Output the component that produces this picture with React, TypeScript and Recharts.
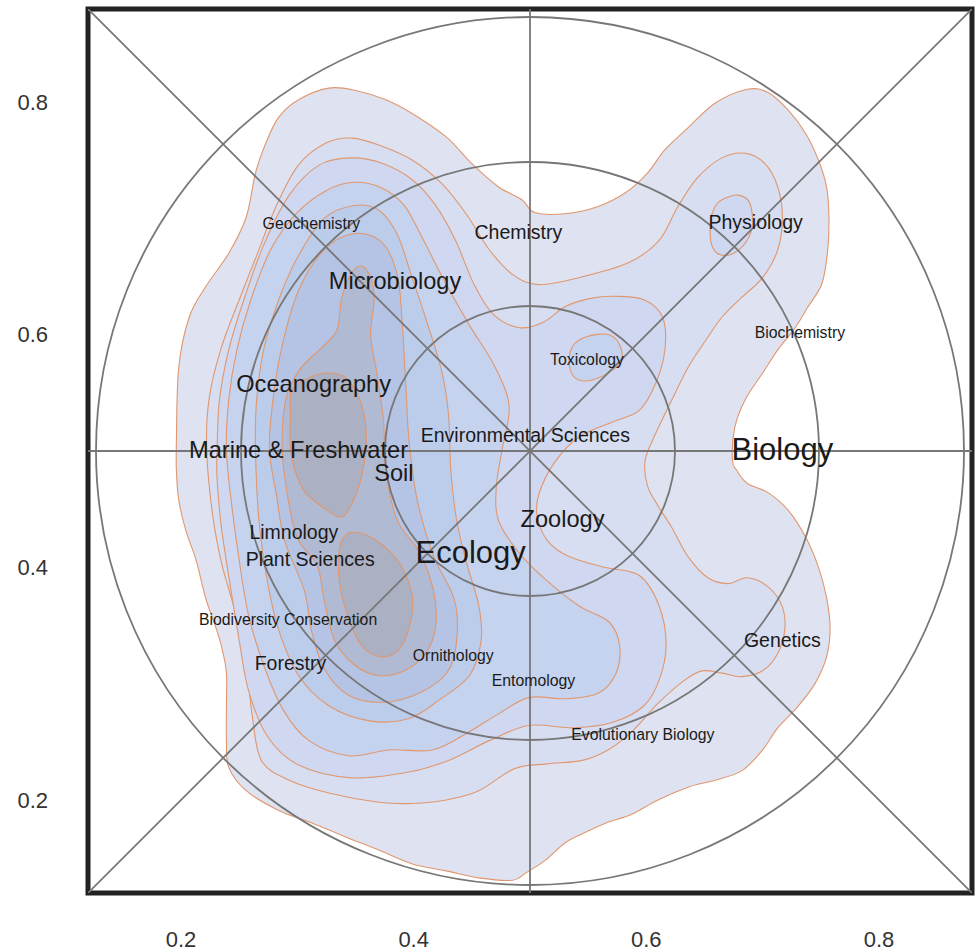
import React from 'react';
import { ScatterChart, Scatter, XAxis, YAxis, ReferenceArea } from 'recharts';

const FONT = '"Liberation Sans", Arial, Helvetica, sans-serif';

// ---------- axes ----------
const AXIS_DOMAIN: [number, number] = [0.12, 0.88];
const AXIS_TICKS = [0.2, 0.4, 0.6, 0.8];

// ---------- density contour levels (data coordinates, outermost first) ----------
const level1: [number, number][] = [
  [0.198, 0.572], [0.207, 0.615], [0.221, 0.641], [0.241, 0.670], [0.256, 0.701], [0.264, 0.739],
  [0.273, 0.765], [0.284, 0.787], [0.301, 0.802], [0.327, 0.812], [0.350, 0.810], [0.376, 0.802],
  [0.399, 0.790], [0.428, 0.770], [0.450, 0.747], [0.473, 0.727], [0.493, 0.716], [0.504, 0.705],
  [0.530, 0.704], [0.558, 0.710], [0.582, 0.722], [0.601, 0.739], [0.616, 0.759], [0.636, 0.778],
  [0.659, 0.799], [0.687, 0.811], [0.705, 0.808], [0.722, 0.793], [0.737, 0.773], [0.748, 0.750],
  [0.755, 0.727], [0.757, 0.701], [0.756, 0.673], [0.751, 0.644], [0.739, 0.624], [0.728, 0.606],
  [0.713, 0.587], [0.700, 0.567], [0.685, 0.544], [0.676, 0.520], [0.674, 0.492], [0.678, 0.483],
  [0.687, 0.472], [0.705, 0.464], [0.722, 0.449], [0.737, 0.426], [0.748, 0.400], [0.755, 0.374],
  [0.758, 0.348], [0.755, 0.323], [0.745, 0.300], [0.730, 0.280], [0.713, 0.262], [0.700, 0.243],
  [0.682, 0.225], [0.659, 0.217], [0.636, 0.211], [0.610, 0.200], [0.588, 0.188], [0.565, 0.180],
  [0.545, 0.171], [0.530, 0.163], [0.513, 0.148], [0.496, 0.137], [0.485, 0.131], [0.456, 0.133],
  [0.428, 0.139], [0.399, 0.145], [0.370, 0.157], [0.342, 0.168], [0.313, 0.180], [0.284, 0.191],
  [0.256, 0.208], [0.241, 0.228], [0.239, 0.251], [0.239, 0.280], [0.239, 0.309], [0.235, 0.331],
  [0.230, 0.348], [0.221, 0.374], [0.213, 0.406], [0.204, 0.432], [0.198, 0.458], [0.196, 0.483],
  [0.196, 0.509],
];

const level2: [number, number][] = [
  [0.222, 0.501], [0.224, 0.544], [0.234, 0.587], [0.250, 0.630], [0.265, 0.668], [0.282, 0.711],
  [0.301, 0.746], [0.325, 0.765], [0.347, 0.769], [0.370, 0.763], [0.399, 0.750], [0.424, 0.730],
  [0.445, 0.704], [0.465, 0.673], [0.486, 0.651], [0.508, 0.643], [0.542, 0.649], [0.585, 0.662],
  [0.611, 0.681], [0.627, 0.710], [0.644, 0.735], [0.665, 0.752], [0.685, 0.756], [0.702, 0.747],
  [0.713, 0.727], [0.717, 0.701], [0.713, 0.673], [0.700, 0.649], [0.682, 0.632], [0.665, 0.615],
  [0.651, 0.595], [0.636, 0.572], [0.622, 0.544], [0.608, 0.515], [0.599, 0.492], [0.601, 0.470],
  [0.610, 0.453], [0.622, 0.434], [0.636, 0.409], [0.653, 0.391], [0.670, 0.386], [0.687, 0.391],
  [0.705, 0.383], [0.717, 0.366], [0.719, 0.346], [0.713, 0.326], [0.700, 0.311], [0.682, 0.306],
  [0.665, 0.309], [0.648, 0.311], [0.633, 0.303], [0.610, 0.283], [0.588, 0.259], [0.567, 0.243],
  [0.545, 0.234], [0.515, 0.231], [0.487, 0.227], [0.456, 0.208], [0.428, 0.200], [0.399, 0.197],
  [0.370, 0.198], [0.327, 0.206], [0.293, 0.217], [0.269, 0.234], [0.261, 0.274], [0.256, 0.317],
  [0.247, 0.360], [0.235, 0.403], [0.227, 0.446],
];

const level3: [number, number][] = [
  [0.231, 0.501], [0.233, 0.544], [0.241, 0.587], [0.254, 0.630], [0.271, 0.677], [0.293, 0.720],
  [0.319, 0.746], [0.347, 0.752], [0.374, 0.747], [0.399, 0.733], [0.419, 0.711], [0.436, 0.681],
  [0.452, 0.643], [0.469, 0.617], [0.491, 0.606], [0.512, 0.611], [0.530, 0.624], [0.551, 0.631],
  [0.573, 0.633], [0.598, 0.630], [0.614, 0.615], [0.616, 0.587], [0.608, 0.558], [0.594, 0.535],
  [0.571, 0.525], [0.542, 0.512], [0.521, 0.490], [0.508, 0.464], [0.506, 0.445], [0.515, 0.423],
  [0.534, 0.409], [0.564, 0.400], [0.594, 0.393], [0.611, 0.367], [0.617, 0.333], [0.611, 0.303],
  [0.598, 0.281], [0.572, 0.267], [0.538, 0.262], [0.499, 0.264], [0.465, 0.251], [0.430, 0.234],
  [0.396, 0.224], [0.347, 0.219], [0.301, 0.230], [0.274, 0.255], [0.258, 0.294], [0.250, 0.337],
  [0.243, 0.380], [0.235, 0.432], [0.231, 0.475],
];

const level3Physiology: [number, number][] = [
  [0.665, 0.716], [0.679, 0.720], [0.689, 0.713], [0.691, 0.692], [0.682, 0.675], [0.668, 0.668],
  [0.657, 0.675], [0.655, 0.696], [0.659, 0.710],
];

const level4: [number, number][] = [
  [0.239, 0.501], [0.241, 0.544], [0.248, 0.587], [0.260, 0.630], [0.277, 0.673], [0.299, 0.704],
  [0.325, 0.724], [0.349, 0.731], [0.373, 0.726], [0.392, 0.711], [0.407, 0.684], [0.426, 0.647],
  [0.448, 0.608], [0.469, 0.574], [0.482, 0.539], [0.476, 0.501], [0.471, 0.469], [0.473, 0.440],
  [0.491, 0.412], [0.514, 0.389], [0.542, 0.367], [0.568, 0.353], [0.577, 0.333], [0.574, 0.309],
  [0.559, 0.292], [0.531, 0.287], [0.499, 0.288], [0.473, 0.274], [0.445, 0.257], [0.416, 0.243],
  [0.379, 0.243], [0.344, 0.238], [0.310, 0.251], [0.288, 0.277], [0.271, 0.316], [0.258, 0.359],
  [0.250, 0.406], [0.243, 0.458],
];

const level4Toxicology: [number, number][] = [
  [0.548, 0.598], [0.568, 0.600], [0.578, 0.589], [0.577, 0.575], [0.559, 0.563], [0.542, 0.561],
  [0.534, 0.572], [0.536, 0.589],
];

const level5: [number, number][] = [
  [0.264, 0.501], [0.265, 0.544], [0.271, 0.587], [0.284, 0.630], [0.301, 0.668], [0.323, 0.700],
  [0.349, 0.711], [0.370, 0.707], [0.386, 0.686], [0.398, 0.651], [0.411, 0.612], [0.424, 0.569],
  [0.430, 0.531], [0.432, 0.483], [0.437, 0.440], [0.446, 0.402], [0.456, 0.367], [0.458, 0.337],
  [0.448, 0.307], [0.422, 0.286], [0.396, 0.270], [0.362, 0.268], [0.327, 0.281], [0.301, 0.307],
  [0.284, 0.346], [0.274, 0.389], [0.267, 0.440],
];

const level6: [number, number][] = [
  [0.276, 0.501], [0.279, 0.544], [0.287, 0.591], [0.301, 0.638], [0.323, 0.673], [0.349, 0.687],
  [0.373, 0.679], [0.386, 0.651], [0.390, 0.612], [0.393, 0.561], [0.396, 0.509], [0.403, 0.458],
  [0.417, 0.410], [0.435, 0.372], [0.437, 0.337], [0.429, 0.310], [0.405, 0.292], [0.374, 0.284],
  [0.344, 0.290], [0.323, 0.313], [0.312, 0.346], [0.306, 0.380], [0.289, 0.423], [0.282, 0.462],
];

const level7: [number, number][] = [
  [0.287, 0.501], [0.290, 0.544], [0.302, 0.570], [0.320, 0.588], [0.334, 0.604], [0.338, 0.631],
  [0.346, 0.652], [0.355, 0.659], [0.363, 0.649], [0.366, 0.630], [0.363, 0.600], [0.368, 0.569],
  [0.374, 0.526], [0.376, 0.483], [0.386, 0.440], [0.405, 0.413], [0.417, 0.380], [0.419, 0.350],
  [0.411, 0.327], [0.392, 0.311], [0.370, 0.307], [0.349, 0.316], [0.332, 0.337], [0.323, 0.372],
  [0.317, 0.402], [0.301, 0.423], [0.293, 0.453],
];

const level8Marine: [number, number][] = [
  [0.295, 0.552], [0.308, 0.562], [0.325, 0.567], [0.340, 0.564], [0.351, 0.550], [0.358, 0.528],
  [0.359, 0.503], [0.355, 0.477], [0.346, 0.453], [0.337, 0.443], [0.323, 0.451], [0.307, 0.464],
  [0.298, 0.483], [0.294, 0.503], [0.294, 0.531],
];

const level8Plant: [number, number][] = [
  [0.347, 0.430], [0.359, 0.428], [0.376, 0.417], [0.390, 0.400], [0.399, 0.374], [0.396, 0.348],
  [0.387, 0.329], [0.372, 0.323], [0.355, 0.333], [0.343, 0.359], [0.336, 0.389], [0.336, 0.415],
  [0.340, 0.426],
];

const CONTOURS: { name: string; level: number; pts: [number, number][] }[] = [
  { name: 'level1', level: 0, pts: level1 },
  { name: 'level2', level: 1, pts: level2 },
  { name: 'level3', level: 2, pts: level3 },
  { name: 'level3Physiology', level: 2, pts: level3Physiology },
  { name: 'level4', level: 3, pts: level4 },
  { name: 'level4Toxicology', level: 3, pts: level4Toxicology },
  { name: 'level5', level: 4, pts: level5 },
  { name: 'level6', level: 5, pts: level6 },
  { name: 'level7', level: 6, pts: level7 },
  { name: 'level8Marine', level: 7, pts: level8Marine },
  { name: 'level8Plant', level: 7, pts: level8Plant },
];

// ---------- discipline labels ----------
const LABEL_NAMES = [
  'Geochemistry', 'Chemistry', 'Microbiology', 'Physiology', 'Biochemistry', 'Toxicology',
  'Oceanography', 'Environmental Sciences', 'Biology', 'Marine & Freshwater', 'Soil',
  'Limnology', 'Plant Sciences', 'Ecology', 'Zoology', 'Biodiversity Conservation', 'Forestry',
  'Ornithology', 'Entomology', 'Evolutionary Biology', 'Genetics',
];
const LABEL_X = [
  0.312, 0.490, 0.384, 0.694, 0.732, 0.549,
  0.314, 0.496, 0.717, 0.301, 0.383,
  0.297, 0.311, 0.449, 0.528, 0.292, 0.294,
  0.434, 0.503, 0.597, 0.717,
];
const LABEL_Y = [
  0.696, 0.688, 0.646, 0.697, 0.602, 0.579,
  0.558, 0.514, 0.502, 0.501, 0.481,
  0.430, 0.407, 0.413, 0.442, 0.355, 0.318,
  0.324, 0.303, 0.256, 0.337,
];
const LABEL_RANK = [
  1, 2, 3, 2, 1, 1,
  3, 2, 4, 3, 3,
  2, 2, 4, 3, 1, 2,
  1, 1, 1, 2,
];

// ---------- guides ----------
const GUIDE_CENTER = [{ x: 0.5, y: 0.5 }];
const GUIDE_SEGMENTS: [number, number][][] = [
  [[0.5, 0.12], [0.5, 0.88]],
  [[0.12, 0.5], [0.88, 0.5]],
  [[0.12, 0.88], [0.88, 0.12]],
  [[0.12, 0.12], [0.88, 0.88]],
];

// ---------- styles ----------
const LEVEL_FILLS = ['#dfe3f1', '#d7def1', '#cfd8f0', '#c6d3ef', '#bccdec', '#b5c4e4', '#b1bad3', '#abb0c2'];
const CONTOUR_STROKE = '#e0976e';
const GUIDE_STROKE = '#777777';
const RANK_FONT = [0, 15.8, 19.5, 23.6, 31];
const CIRCLE_RADII = [145, 289, 434];

const labelData = LABEL_NAMES.map((name, i) => ({ x: LABEL_X[i], y: LABEL_Y[i], name, rank: LABEL_RANK[i] }));

function closedPath(pts: { x: number; y: number }[]): string {
  const n = pts.length;
  if (!pts || n < 3) return '';
  let d = `M${pts[0].x},${pts[0].y}`;
  for (let i = 0; i < n; i++) {
    const p0 = pts[(i - 1 + n) % n];
    const p1 = pts[i];
    const p2 = pts[(i + 1) % n];
    const p3 = pts[(i + 2) % n];
    const c1x = p1.x + (p2.x - p0.x) / 6;
    const c1y = p1.y + (p2.y - p0.y) / 6;
    const c2x = p2.x - (p3.x - p1.x) / 6;
    const c2y = p2.y - (p3.y - p1.y) / 6;
    d += `C${c1x},${c1y} ${c2x},${c2y} ${p2.x},${p2.y}`;
  }
  return d + 'Z';
}

const EmptyShape = () => <g />;

const tickStyle = { fontSize: 22, fill: '#333333', fontFamily: FONT };

export default function App() {
  return (
    <div style={{ position: 'fixed', left: 0, top: 0, width: 976, height: 951, background: '#ffffff' }}>
      <ScatterChart width={976} height={951} margin={{ top: 9, right: 4, bottom: 0, left: 0 }}>
        <XAxis
          type="number"
          dataKey="x"
          domain={AXIS_DOMAIN}
          ticks={AXIS_TICKS}
          allowDataOverflow
          axisLine={false}
          tickLine={false}
          height={58}
          tickMargin={32}
          tick={tickStyle}
          tickFormatter={(v: number) => v.toFixed(1)}
        />
        <YAxis
          type="number"
          dataKey="y"
          domain={AXIS_DOMAIN}
          ticks={AXIS_TICKS}
          allowDataOverflow
          axisLine={false}
          tickLine={false}
          width={88}
          tickMargin={34}
          tick={tickStyle}
          tickFormatter={(v: number) => v.toFixed(1)}
        />
        {CONTOURS.map((c) => (
          <Scatter
            key={c.name}
            name={c.name}
            data={c.pts.map(([x, y]) => ({ x, y }))}
            shape={EmptyShape}
            isAnimationActive={false}
            line={(p: any) => (
              <path
                d={closedPath(p.points)}
                fill={LEVEL_FILLS[c.level]}
                stroke={CONTOUR_STROKE}
                strokeWidth={1.1}
              />
            )}
          />
        ))}
        <Scatter
          name="circles"
          data={GUIDE_CENTER}
          isAnimationActive={false}
          shape={(p: any) => (
            <g>
              {CIRCLE_RADII.map((r) => (
                <circle key={r} cx={p.cx} cy={p.cy} r={r} fill="none" stroke={GUIDE_STROKE} strokeWidth={1.8} />
              ))}
            </g>
          )}
        />
        {GUIDE_SEGMENTS.map((seg, i) => (
          <Scatter
            key={`seg${i}`}
            name={`seg${i}`}
            data={seg.map(([x, y]) => ({ x, y }))}
            shape={EmptyShape}
            isAnimationActive={false}
            line={{ stroke: GUIDE_STROKE, strokeWidth: 1.8 }}
          />
        ))}
        <Scatter
          name="labels"
          data={labelData}
          isAnimationActive={false}
          shape={(p: any) => (
            <text
              x={p.cx}
              y={p.cy}
              dy="0.35em"
              textAnchor="middle"
              fontSize={RANK_FONT[p.payload.rank]}
              fontFamily={FONT}
              fill="#1a1a1a"
            >
              {p.payload.name}
            </text>
          )}
        />
        <ReferenceArea
          x1={0.12}
          x2={0.88}
          y1={0.12}
          y2={0.88}
          fill="none"
          fillOpacity={0}
          stroke="#222222"
          strokeWidth={5}
          ifOverflow="visible"
        />
      </ScatterChart>
    </div>
  );
}
